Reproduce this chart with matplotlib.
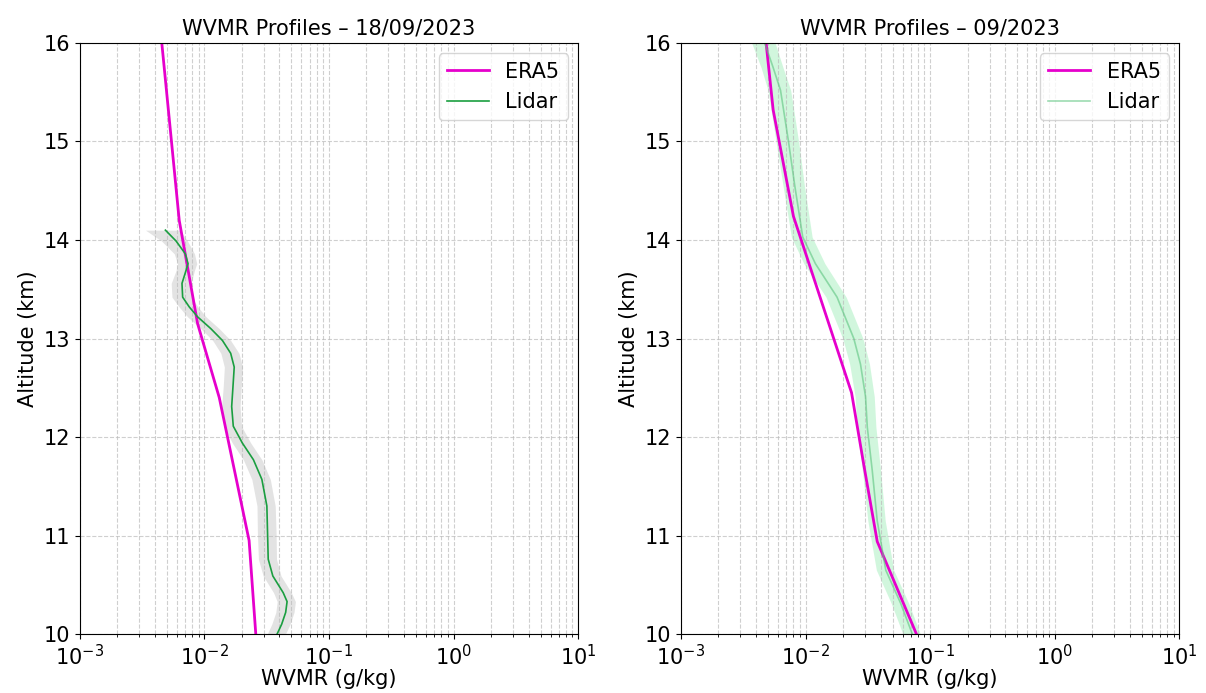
""" WVMR profiles: ERA5 vs Lidar """

import matplotlib.pyplot as plt

# ERA5 (pressure levels), left panel - 18/09/2023
era5_alt_day = [9.6, 10.95, 12.4, 13.15, 14.2, 16.6]
era5_wv_day = [0.0273, 0.0229, 0.0132, 0.00885, 0.0063, 0.0041]

# Lidar, left panel
lidar_alt_day = [14.10, 13.99, 13.86, 13.76, 13.69, 13.56, 13.42, 13.32, 13.22, 13.10,
                 12.98, 12.85, 12.71, 12.51, 12.31, 12.11, 11.94, 11.77, 11.57, 11.30,
                 11.03, 10.76, 10.59, 10.42, 10.33, 10.22, 10.10, 10.0]
lidar_wv_day = [0.00488, 0.00594, 0.00705, 0.00741, 0.00714, 0.00663, 0.00671, 0.00759, 0.00885, 0.0113,
                0.0140, 0.0163, 0.0174, 0.0170, 0.0166, 0.0171, 0.0202, 0.0248, 0.0290, 0.0318,
                0.0322, 0.0326, 0.0355, 0.0430, 0.0462, 0.0450, 0.0418, 0.0384]
lidar_err_day = [0.0015, 0.0014, 0.0013, 0.0013, 0.0012, 0.0012, 0.0012, 0.0013, 0.0015, 0.0019,
                 0.0023, 0.0027, 0.0029, 0.0028, 0.0028, 0.0028, 0.0034, 0.0042, 0.0049, 0.0053,
                 0.0055, 0.0054, 0.0058, 0.0070, 0.0077, 0.0075, 0.0070, 0.0064]

# ERA5, right panel - monthly mean 09/2023
era5_alt_month = [10.0, 10.94, 11.7, 12.45, 14.24, 15.32, 16.6]
era5_wv_month = [0.0776, 0.0376, 0.0295, 0.0234, 0.0080, 0.0055, 0.0043]

# Lidar, right panel
lidar_alt_month = [16.0, 15.75, 15.52, 15.0, 14.55, 14.03, 13.76, 13.42, 13.0, 12.74,
                   12.41, 12.1, 11.66, 11.15, 10.65, 10.31, 10.0]
lidar_wv_month = [0.0047, 0.0055, 0.0063, 0.0073, 0.0082, 0.0095, 0.0120, 0.0179, 0.0244, 0.0276,
                  0.0303, 0.0313, 0.0343, 0.0376, 0.0440, 0.0581, 0.0719]
lidar_err_month = [0.0010, 0.0011, 0.0013, 0.0015, 0.0016, 0.0018, 0.0023, 0.0033, 0.0045, 0.0050,
                   0.0053, 0.0054, 0.0057, 0.0060, 0.0070, 0.0093, 0.0115]


def draw_panel(ax, title, e_alt, e_wv, l_alt, l_wv, l_err, line_col, band_col, line_alpha):
	lo = [v - e for v, e in zip(l_wv, l_err)]
	hi = [v + e for v, e in zip(l_wv, l_err)]
	ax.fill_betweenx(l_alt, lo, hi, color=band_col, alpha=0.35, lw=0)
	ax.plot(e_wv, e_alt, color='#e600cc', lw=2, label='ERA5')
	ax.plot(l_wv, l_alt, color=line_col, lw=1.2, alpha=line_alpha, label='Lidar')

	ax.set_xscale('log')
	ax.set_xlim(1e-3, 1e1)
	ax.set_ylim(10, 16)
	ax.grid(True, which='both', axis='x', ls='--', color='#bbbbbb', alpha=0.7)
	ax.grid(True, which='major', axis='y', ls='--', color='#bbbbbb', alpha=0.7)
	ax.set_title(title, fontsize=15, pad=6)
	ax.set_xlabel('WVMR (g/kg)', fontsize=15, labelpad=0)
	ax.set_ylabel('Altitude (km)', fontsize=15)
	ax.tick_params(labelsize=15)
	ax.legend(fontsize=15, loc='upper right')


fig, (ax1, ax2) = plt.subplots(1, 2, figsize=(12.06, 6.93), dpi=100)
fig.subplots_adjust(left=0.066, right=0.978, bottom=0.085, top=0.938, wspace=0.206)

draw_panel(ax1, 'WVMR Profiles – 18/09/2023', era5_alt_day, era5_wv_day,
		   lidar_alt_day, lidar_wv_day, lidar_err_day, '#1a9e40', '#b0b0b0', 1.0)
draw_panel(ax2, 'WVMR Profiles – 09/2023', era5_alt_month, era5_wv_month,
		   lidar_alt_month, lidar_wv_month, lidar_err_month, '#5cc47f', '#7de8a0', 0.6)

plt.savefig('out.png', dpi=100)
